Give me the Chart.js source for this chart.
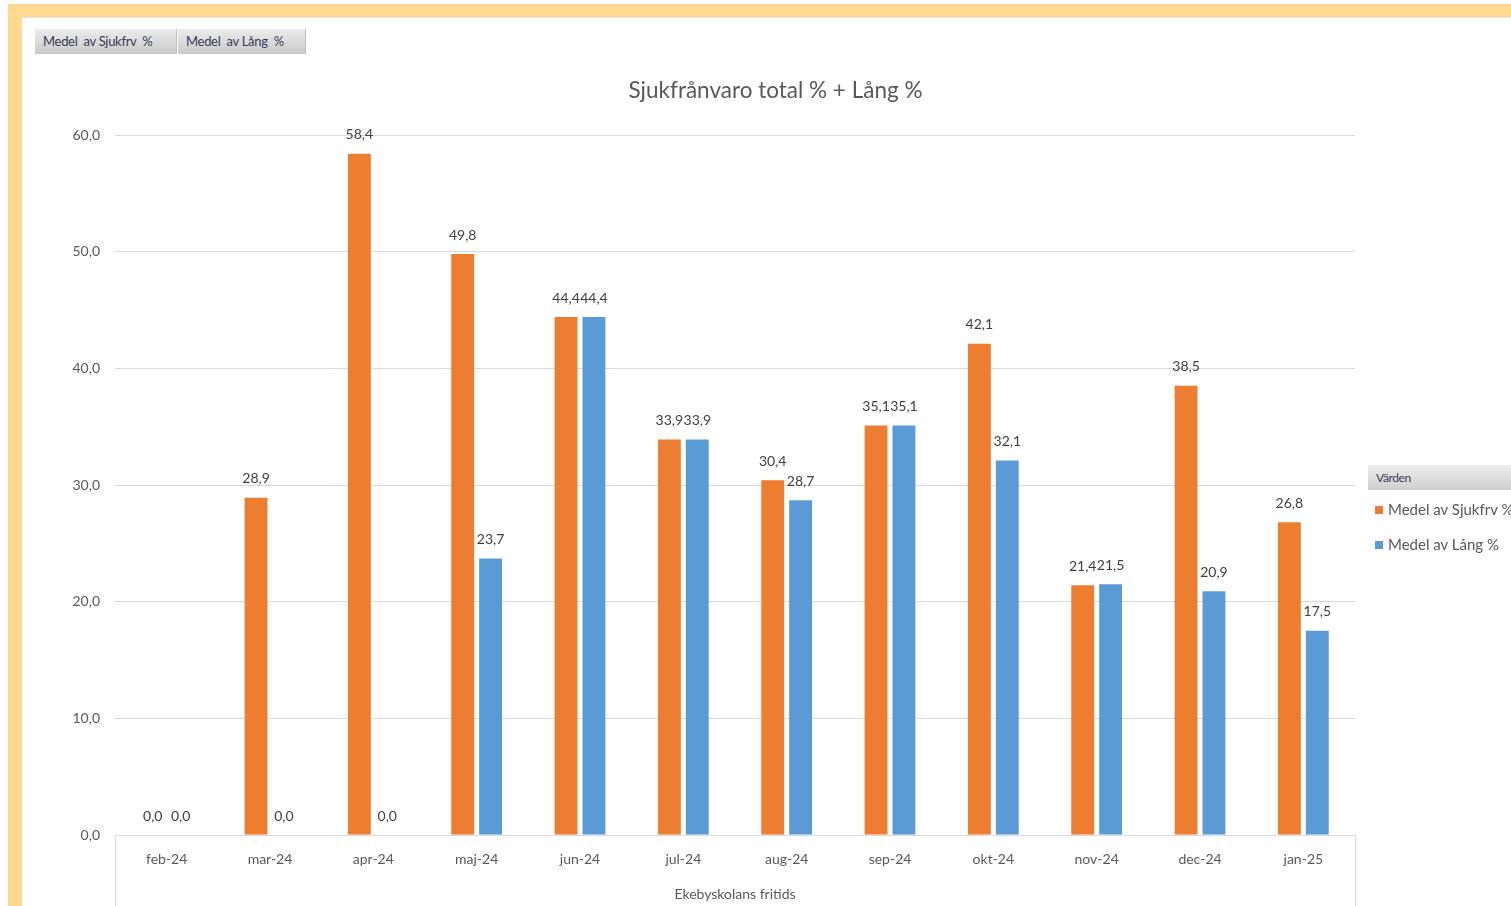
<!DOCTYPE html>
<html lang="sv">
<head>
<meta charset="utf-8">
<title>Sjukfrånvaro total % + Lång %</title>
<script src="https://cdn.jsdelivr.net/npm/chart.js@4.4.1/dist/chart.umd.min.js"></script>
<style>
  html, body { margin: 0; padding: 0; background: #fff; overflow: hidden; }
  body { width: 1511px; height: 906px; position: relative; font-family: Lato, "Open Sans", sans-serif; }
  #chart { position: absolute; left: 0; top: 0; }
  .band-top { position: absolute; left: 8px; top: 4px; width: 1503px; height: 13px; background: #ffd98f; border-bottom: 1px solid #e2e2e2; }
  .band-left { position: absolute; left: 8px; top: 4px; width: 14px; height: 902px; background: #ffd98f; }
  .pivot-btn { position: absolute; top: 29px; height: 25px; line-height: 25px; font-size: 13px; letter-spacing: -0.3px;
    color: #3b3b5a; padding-left: 8px; box-sizing: border-box;
    background: linear-gradient(#ececec, #c9c9c9); border-right: 1px solid #bdbdbd; }
  .title { position: absolute; left: 0; width: 1551px; top: 76px; text-align: center; font-size: 22.5px; color: #595959; }
  .legend-head { position: absolute; left: 1368px; top: 465px; width: 143px; height: 25px; line-height: 25px; font-size: 12px;
    color: #3b3b5a; padding-left: 8px; box-sizing: border-box; letter-spacing: -0.4px; background: linear-gradient(#ececec, #cfcfcf); }
  .legend-item { position: absolute; left: 1375px; font-size: 15px; color: #595959; white-space: nowrap; }
  .legend-item span { display: inline-block; width: 8px; height: 8px; margin-right: 5px; vertical-align: 1px; }
</style>
</head>
<body>
<canvas id="chart" width="1511" height="906"></canvas>
<div class="band-top"></div>
<div class="band-left"></div>
<div class="pivot-btn" style="left:35px;width:142px">Medel&nbsp; av Sjukfrv&nbsp; %</div>
<div class="pivot-btn" style="left:178px;width:128px">Medel&nbsp; av Lång&nbsp; %</div>
<div class="title">Sjukfrånvaro total % + Lång %</div>
<div class="legend-head">Värden</div>
<div class="legend-item" style="top:500px"><span style="background:#ed7d31"></span>Medel av Sjukfrv %</div>
<div class="legend-item" style="top:535px"><span style="background:#5b9bd5"></span>Medel av Lång %</div>
<script>
'use strict';

// ── Data ─────────────────────────────────────────────────────────────────────

const months = ['feb-24', 'mar-24', 'apr-24', 'maj-24', 'jun-24', 'jul-24',
                'aug-24', 'sep-24', 'okt-24', 'nov-24', 'dec-24', 'jan-25'];
const sjukfrv = [0.0, 28.9, 58.4, 49.8, 44.4, 33.9, 30.4, 35.1, 42.1, 21.4, 38.5, 26.8];
const lang    = [0.0, 0.0, 0.0, 23.7, 44.4, 33.9, 28.7, 35.1, 32.1, 21.5, 20.9, 17.5];
const yTicks  = [0, 10, 20, 30, 40, 50, 60];

const GREY = '#595959';
const GRID = '#d9d9d9';
const FONT = 'Lato, "Open Sans", sans-serif';

function fmt(v) {
  return Number(v).toFixed(1).replace('.', ',');
}

// ── Plugins ──────────────────────────────────────────────────────────────────

const valueLabels = {
  id: 'valueLabels',
  afterDatasetsDraw(chart) {
    const ctx = chart.ctx;
    ctx.save();
    ctx.font = '14px ' + FONT;
    ctx.fillStyle = '#404040';
    ctx.textAlign = 'center';
    ctx.textBaseline = 'middle';
    chart.data.datasets.forEach((ds, i) => {
      chart.getDatasetMeta(i).data.forEach((bar, j) => {
        ctx.fillText(fmt(ds.data[j]), bar.x, bar.y - 19);
      });
    });
    ctx.restore();
  },
};

// pivot-style outer lines under the category axis
const axisFrame = {
  id: 'axisFrame',
  afterDraw(chart) {
    const { ctx, chartArea } = chart;
    ctx.save();
    ctx.strokeStyle = GRID;
    ctx.lineWidth = 1;
    ctx.beginPath();
    [chartArea.left, chartArea.right].forEach(x => {
      ctx.moveTo(Math.round(x) + 0.5, chartArea.bottom);
      ctx.lineTo(Math.round(x) + 0.5, chart.height);
    });
    ctx.stroke();
    ctx.restore();
  },
};

// ── Chart ────────────────────────────────────────────────────────────────────

new Chart(document.getElementById('chart'), {
  type: 'bar',
  data: {
    labels: months,
    datasets: [
      { label: 'Medel av Sjukfrv %', data: sjukfrv, backgroundColor: '#ed7d31' },
      { label: 'Medel av Lång %', data: lang, backgroundColor: '#5b9bd5' },
    ],
  },
  options: {
    animation: false,
    responsive: false,
    layout: { padding: { left: 0, right: 156, top: 135, bottom: 0 } },
    datasets: { bar: { categoryPercentage: 0.54, barPercentage: 0.82 } },
    scales: {
      x: {
        grid: { display: false, drawTicks: false },
        border: { display: true, color: GRID },
        ticks: { color: GREY, font: { family: FONT, size: 14 }, padding: 16 },
        title: { display: true, text: 'Ekebyskolans fritids', color: GREY, font: { family: FONT, size: 14 }, padding: { top: 4, bottom: 3 } },
        afterFit(scale) { scale.height = 71; },
      },
      y: {
        min: yTicks[0],
        max: yTicks[yTicks.length - 1],
        afterBuildTicks(scale) { scale.ticks = yTicks.map(v => ({ value: v })); },
        grid: { color: GRID, drawTicks: false },
        border: { display: false },
        ticks: { color: GREY, font: { family: FONT, size: 14 }, padding: 15, callback: v => fmt(v) },
        afterFit(scale) { scale.width = 115; },
      },
    },
    plugins: {
      legend: { display: false },
      tooltip: { enabled: false },
    },
  },
  plugins: [valueLabels, axisFrame],
});
</script>
</body>
</html>
